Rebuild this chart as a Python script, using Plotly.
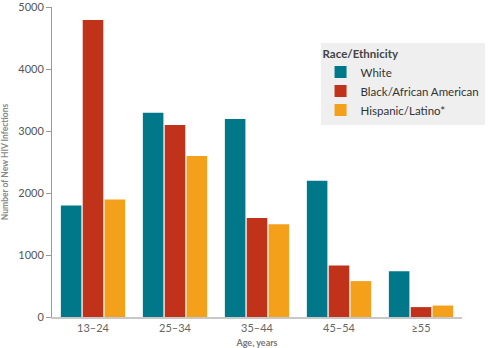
import plotly.graph_objects as go

ages = ["13–24", "25–34", "35–44", "45–54", "≥55"]
white = [1800, 3300, 3200, 2200, 740]
black = [4800, 3100, 1600, 830, 160]
hispanic = [1900, 2600, 1500, 580, 185]
series_names = ["White", "Black/African American", "Hispanic/Latino*"]
colors = ["#00788a", "#c0321a", "#f5a01a"]
y_ticks = [0, 1000, 2000, 3000, 4000, 5000]

fig = go.Figure()
for name, vals, c in zip(series_names, [white, black, hispanic], colors):
    fig.add_trace(go.Bar(x=ages, y=vals, name=name, marker=dict(color=c, line=dict(width=0))))

font = "Lato, 'Open Sans', sans-serif"
fig.update_layout(
    width=497, height=348,
    margin=dict(l=52, r=35, t=7, b=31),
    paper_bgcolor="white", plot_bgcolor="white",
    barmode="group", bargap=0.2, bargroupgap=0.06,
    font=dict(family=font, size=11, color="#555"),
    showlegend=True,
    legend=dict(
        title=dict(text="<b>Race/Ethnicity</b>", font=dict(size=11.5, color="#444"), side="top"),
        x=0.655, y=0.885, xanchor="left", yanchor="top",
        bgcolor="#efefef", borderwidth=0,
        font=dict(size=11.5, color="#333"),
        tracegroupgap=0, itemwidth=30,
    ),
    xaxis=dict(
        automargin=False,
        showline=True, linecolor="#c8c8c8", linewidth=2, ticks="",
        tickfont=dict(size=11, color="#666"),
        title=dict(text="<b>Age, years</b>", font=dict(size=9, color="#777"), standoff=8),
    ),
    yaxis=dict(
        automargin=False, ticklabeloverflow="allow",
        range=[0, 5008], tickmode="array", tickvals=y_ticks, showgrid=False, zeroline=False,
        showline=True, linecolor="#999", linewidth=1,
        ticks="outside", ticklen=5, tickcolor="#999",
        tickfont=dict(size=11, color="#555"),
        title=dict(text="<b>Number of New HIV Infections</b>", font=dict(size=8.5, color="#888"), standoff=8),
    ),
)
fig.write_html("out.html")
